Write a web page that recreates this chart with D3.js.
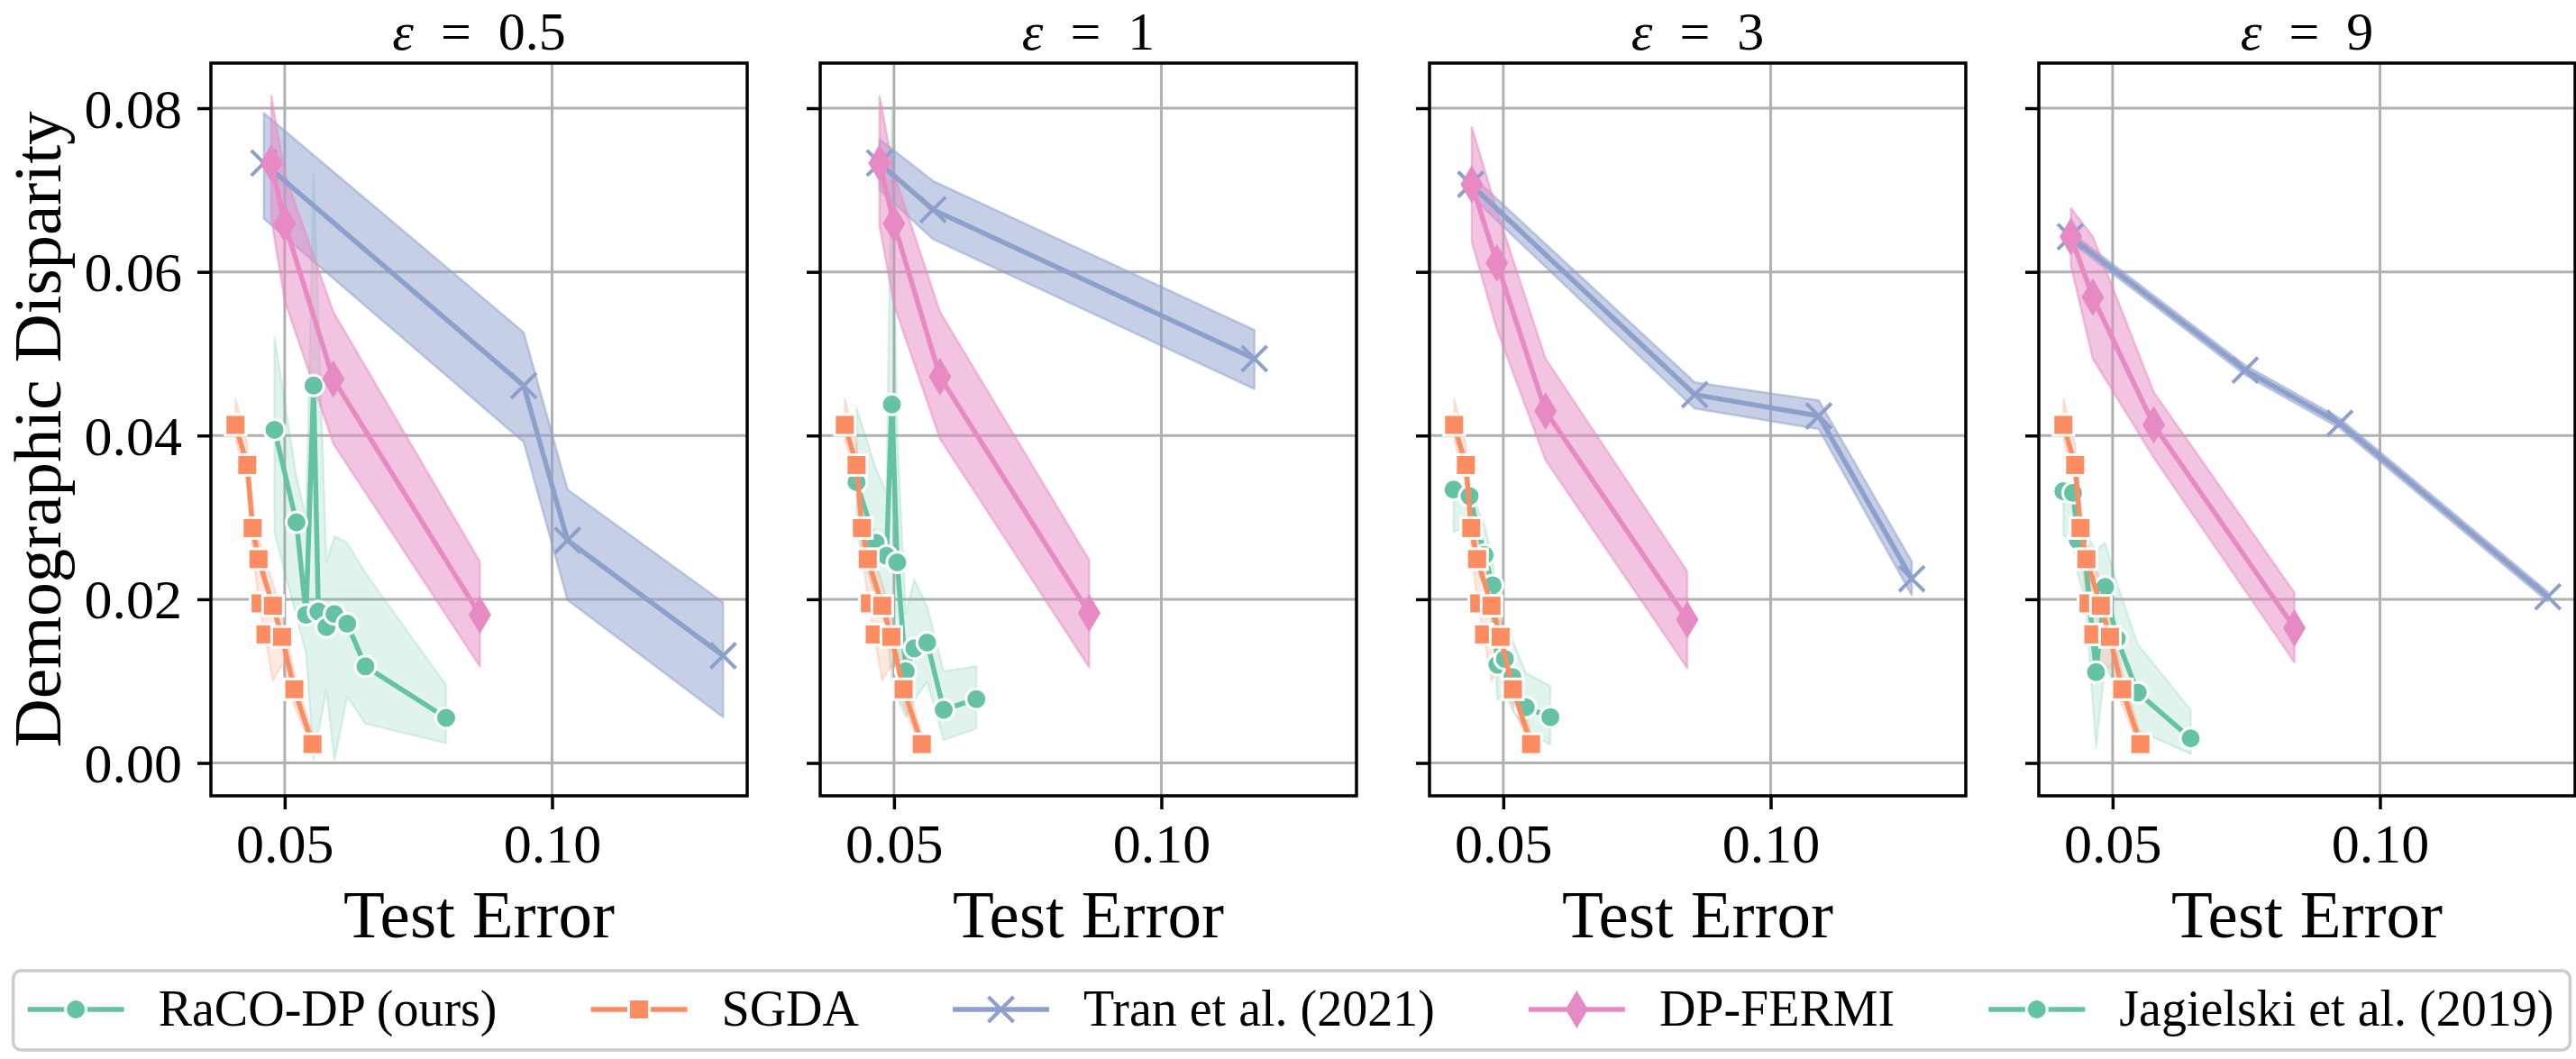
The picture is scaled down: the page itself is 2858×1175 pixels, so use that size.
<!DOCTYPE html>
<html>
<head>
<meta charset="utf-8">
<script src="https://cdn.jsdelivr.net/npm/d3@7"></script>
<style>
  body { margin: 0; background: #fff; }
  svg text { font-family: "Liberation Serif", "Times New Roman", serif; fill: #000; }
</style>
</head>
<body>
<svg id="chart" width="2858" height="1175"></svg>
<script>
// panels and ticks
const epsilons = ["0.5", "1", "3", "9"];
const xTicks = [0.05, 0.10];
const yTicks = [0.00, 0.02, 0.04, 0.06, 0.08];

const methods = ["RaCO-DP (ours)", "SGDA", "Tran et al. (2021)", "DP-FERMI", "Jagielski et al. (2019)"];
const colors = ["#66c2a5", "#fc8d62", "#8da0cb", "#e78ac3", "#66c2a5"];
const markerTypes = ["circle", "square", "x", "diamond", "circle"];

// RaCO-DP (ours), one array per panel
const racoX = [
  [0.0481, 0.0522, 0.0540, 0.0554, 0.0563, 0.0578, 0.0593, 0.0617, 0.0651, 0.0802],
  [0.0430, 0.0466, 0.0486, 0.0496, 0.0506, 0.0522, 0.0538, 0.0562, 0.0593, 0.0654],
  [0.0407, 0.0437, 0.0465, 0.0480, 0.0489, 0.0503, 0.0517, 0.0542, 0.0588],
  [0.0408, 0.0426, 0.0435, 0.0449, 0.0469, 0.0486, 0.0508, 0.0547, 0.0646]
];
const racoY = [
  [0.0407, 0.0294, 0.0181, 0.0461, 0.0185, 0.0166, 0.0182, 0.0170, 0.0118, 0.0055],
  [0.0343, 0.0269, 0.0253, 0.0438, 0.0245, 0.0112, 0.0140, 0.0147, 0.0065, 0.0078],
  [0.0334, 0.0326, 0.0254, 0.0217, 0.0120, 0.0127, 0.0105, 0.0068, 0.0056],
  [0.0332, 0.0330, 0.0272, 0.0250, 0.0111, 0.0215, 0.0152, 0.0086, 0.0030]
];
const racoLo = [
  [0.0281, 0.0179, 0.0134, 0.0003, 0.0036, 0.0089, 0.0003, 0.0081, 0.0048, 0.0024],
  [0.0280, 0.0200, 0.0170, 0.0100, 0.0080, 0.0056, 0.0077, 0.0099, 0.0028, 0.0042],
  [0.0282, 0.0290, 0.0220, 0.0170, 0.0077, 0.0085, 0.0065, 0.0040, 0.0022],
  [0.0278, 0.0270, 0.0230, 0.0200, 0.0018, 0.0120, 0.0090, 0.0040, 0.0011]
];
const racoHi = [
  [0.0521, 0.0350, 0.0300, 0.0720, 0.0545, 0.0245, 0.0277, 0.0269, 0.0232, 0.0095],
  [0.0434, 0.0360, 0.0330, 0.0800, 0.0400, 0.0183, 0.0224, 0.0191, 0.0112, 0.0118],
  [0.0345, 0.0335, 0.0290, 0.0250, 0.0180, 0.0165, 0.0150, 0.0110, 0.0094],
  [0.0336, 0.0335, 0.0290, 0.0280, 0.0260, 0.0269, 0.0220, 0.0145, 0.0065]
];

// SGDA, same in every panel
const sgdaX  = [0.0408, 0.0430, 0.0440, 0.0451, 0.0478, 0.0495, 0.0518, 0.0552];
const sgdaY  = [0.0413, 0.0364, 0.0287, 0.0249, 0.0192, 0.0154, 0.0090, 0.0023];
const sgdaLo = [0.0395, 0.0340, 0.0260, 0.0200, 0.0100, 0.0120, 0.0070, 0.0015];
const sgdaHi = [0.0445, 0.0390, 0.0310, 0.0275, 0.0220, 0.0180, 0.0110, 0.0035];
const sgdaExtraX = [0.0455, 0.0464];
const sgdaExtraY = [0.0195, 0.0157];

// Tran et al. (2021)
const tranX = [
  [0.0461, 0.0947, 0.1029, 0.1320],
  [0.0473, 0.0573, 0.1174],
  [0.0439, 0.0858, 0.1090, 0.1264],
  [0.0421, 0.0748, 0.0925, 0.1314]
];
const tranY = [
  [0.0733, 0.0461, 0.0272, 0.0131],
  [0.0733, 0.0676, 0.0494],
  [0.0707, 0.0450, 0.0424, 0.0225],
  [0.0643, 0.0480, 0.0415, 0.0203]
];
const tranLo = [
  [0.0665, 0.0392, 0.0199, 0.0056],
  [0.0700, 0.0640, 0.0457],
  [0.0693, 0.0433, 0.0408, 0.0205],
  [0.0637, 0.0474, 0.0409, 0.0197]
];
const tranHi = [
  [0.0794, 0.0526, 0.0334, 0.0196],
  [0.0762, 0.0711, 0.0529],
  [0.0719, 0.0465, 0.0443, 0.0246],
  [0.0649, 0.0486, 0.0421, 0.0209]
];

// DP-FERMI
const fermiX = [
  [0.0475, 0.0500, 0.0591, 0.0865],
  [0.0473, 0.0500, 0.0586, 0.0865],
  [0.0441, 0.0488, 0.0579, 0.0844],
  [0.0422, 0.0463, 0.0577, 0.0840]
];
const fermiY = [
  [0.0733, 0.0659, 0.0469, 0.0181],
  [0.0733, 0.0659, 0.0472, 0.0183],
  [0.0707, 0.0611, 0.0430, 0.0175],
  [0.0643, 0.0569, 0.0413, 0.0165]
];
const fermiLo = [
  [0.0665, 0.0565, 0.0390, 0.0118],
  [0.0656, 0.0560, 0.0396, 0.0117],
  [0.0637, 0.0530, 0.0370, 0.0116],
  [0.0608, 0.0494, 0.0373, 0.0123]
];
const fermiHi = [
  [0.0815, 0.0720, 0.0551, 0.0246],
  [0.0815, 0.0720, 0.0551, 0.0248],
  [0.0777, 0.0675, 0.0494, 0.0234],
  [0.0678, 0.0643, 0.0453, 0.0208]
];

// layout
const panelLeft = 234, panelStep = 676, panelW = 595;
const plotTop = 70, plotBottom = 883, plotH = plotBottom - plotTop;
const tickFont = 62, titleFont = 60, labelFont = 75, legendFont = 56;

const svg = d3.select("#chart");

const x = d3.scaleLinear().domain([0.0362, 0.1365]).range([0, panelW]);
const y = d3.scaleLinear().domain([-0.00402, 0.08551]).range([plotH, 0]);

const zip = (xs, ys, lo, hi) => xs.map((v, i) => ({x: v, y: ys[i], lo: lo ? lo[i] : null, hi: hi ? hi[i] : null}));

const band = d3.area().x(d => x(d.x)).y0(d => y(d.lo)).y1(d => y(d.hi));
const line = d3.line().x(d => x(d.x)).y(d => y(d.y));

function drawMarker(sel, type, color) {
  if (type === "circle") {
    sel.append("circle").attr("r", 11.5).attr("fill", color)
      .attr("stroke", "#fff").attr("stroke-width", 3);
  } else if (type === "square") {
    sel.append("rect").attr("x", -11.5).attr("y", -11.5).attr("width", 23).attr("height", 23)
      .attr("fill", color).attr("stroke", "#fff").attr("stroke-width", 3);
  } else if (type === "x") {
    sel.append("path").attr("d", "M-14,-14L14,14M-14,14L14,-14")
      .attr("stroke", color).attr("stroke-width", 4).attr("fill", "none");
  } else if (type === "diamond") {
    sel.append("path").attr("d", "M0,-21L12.5,0L0,21L-12.5,0Z").attr("fill", color);
  }
}

epsilons.forEach((eps, p) => {
  const g = svg.append("g").attr("transform", `translate(${panelLeft + p * panelStep},${plotTop})`);

  g.append("clipPath").attr("id", "clip" + p)
    .append("rect").attr("width", panelW).attr("height", plotH);

  // grid
  g.selectAll(".gx").data(xTicks).enter().append("line")
    .attr("x1", d => x(d)).attr("x2", d => x(d)).attr("y1", 0).attr("y2", plotH)
    .attr("stroke", "#b0b0b0").attr("stroke-width", 3);
  g.selectAll(".gy").data(yTicks).enter().append("line")
    .attr("x1", 0).attr("x2", panelW).attr("y1", d => y(d)).attr("y2", d => y(d))
    .attr("stroke", "#b0b0b0").attr("stroke-width", 3);

  const series = [
    {m: 0, pts: zip(racoX[p], racoY[p], racoLo[p], racoHi[p]), alpha: 0.2},
    {m: 1, pts: zip(sgdaX, sgdaY, sgdaLo, sgdaHi), alpha: 0.2, extra: zip(sgdaExtraX, sgdaExtraY)},
    {m: 2, pts: zip(tranX[p], tranY[p], tranLo[p], tranHi[p]), alpha: 0.5},
    {m: 3, pts: zip(fermiX[p], fermiY[p], fermiLo[p], fermiHi[p]), alpha: 0.5}
  ];

  const data = g.append("g").attr("clip-path", `url(#clip${p})`);

  // bands first, below all lines
  series.forEach(s => {
    data.append("path").datum(s.pts).attr("d", band)
      .attr("fill", colors[s.m]).attr("fill-opacity", s.alpha)
      .attr("stroke", colors[s.m]).attr("stroke-opacity", s.alpha).attr("stroke-width", 2.5)
      .attr("stroke-linejoin", "round");
  });

  series.forEach(s => {
    if (s.extra) {
      s.extra.forEach(d => drawMarker(data.append("g").attr("transform", `translate(${x(d.x)},${y(d.y)})`), markerTypes[s.m], colors[s.m]));
    }
    data.append("path").datum(s.pts).attr("d", line)
      .attr("fill", "none").attr("stroke", colors[s.m]).attr("stroke-width", 5.5)
      .attr("stroke-linejoin", "round").attr("stroke-linecap", "round");
    s.pts.forEach(d => drawMarker(data.append("g").attr("transform", `translate(${x(d.x)},${y(d.y)})`), markerTypes[s.m], colors[s.m]));
  });

  // frame
  g.append("rect").attr("width", panelW).attr("height", plotH)
    .attr("fill", "none").attr("stroke", "#000").attr("stroke-width", 3.5);

  // axes
  const ax = g.append("g").attr("transform", `translate(0,${plotH})`)
    .call(d3.axisBottom(x).tickValues(xTicks).tickFormat(d3.format(".2f")).tickSize(15).tickPadding(14));
  const ay = g.append("g")
    .call(d3.axisLeft(y).tickValues(yTicks).tickFormat(p === 0 ? d3.format(".2f") : () => "").tickSize(15).tickPadding(17));
  [ax, ay].forEach(a => {
    a.select(".domain").remove();
    a.selectAll(".tick line").attr("stroke", "#000").attr("stroke-width", 3.5);
    a.selectAll(".tick text").attr("font-size", tickFont)
      .attr("font-family", "'Liberation Serif', serif").attr("fill", "#000");
  });
  ay.selectAll(".tick text").attr("dy", "0.34em");
  ax.selectAll(".tick text").attr("dy", "0.73em");

  // x label
  g.append("text").attr("x", panelW / 2).attr("y", 1040 - plotTop)
    .attr("text-anchor", "middle").attr("font-size", labelFont).text("Test Error");

  // title
  const t = g.append("text").attr("x", panelW / 2).attr("y", 55 - plotTop)
    .attr("text-anchor", "middle").attr("font-size", titleFont);
  t.append("tspan").attr("font-style", "italic").text("ε");
  t.append("tspan").text("\u2002=\u2002" + eps);
});

// y label
svg.append("text")
  .attr("transform", `translate(67,${(plotTop + plotBottom) / 2}) rotate(-90)`)
  .attr("text-anchor", "middle").attr("font-size", labelFont).text("Demographic Disparity");

// legend
const legend = svg.append("g");
const box = legend.append("rect").attr("y", 1077).attr("height", 88).attr("rx", 9)
  .attr("fill", "#fff").attr("stroke", "#cccccc").attr("stroke-width", 3.5);
const markerLen = 107, textGap = 38, entryGap = 104, legendY = 1120;
let cursor = 0;
const items = legend.append("g");
methods.forEach((name, i) => {
  const it = items.append("g").attr("transform", `translate(${cursor},0)`);
  it.append("line").attr("x1", 0).attr("x2", markerLen).attr("y1", legendY).attr("y2", legendY)
    .attr("stroke", colors[i]).attr("stroke-width", 5.5);
  drawMarker(it.append("g").attr("transform", `translate(${markerLen / 2},${legendY})`), markerTypes[i], colors[i]);
  const tx = it.append("text").attr("x", markerLen + textGap).attr("y", 1138)
    .attr("font-size", legendFont).text(name);
  cursor += markerLen + textGap + tx.node().getComputedTextLength() + entryGap;
});
const total = cursor - entryGap;
const start = (2858 - total) / 2 + 3;
items.attr("transform", `translate(${start},0)`);
box.attr("x", start - 16).attr("width", total + 34);
</script>
</body>
</html>
